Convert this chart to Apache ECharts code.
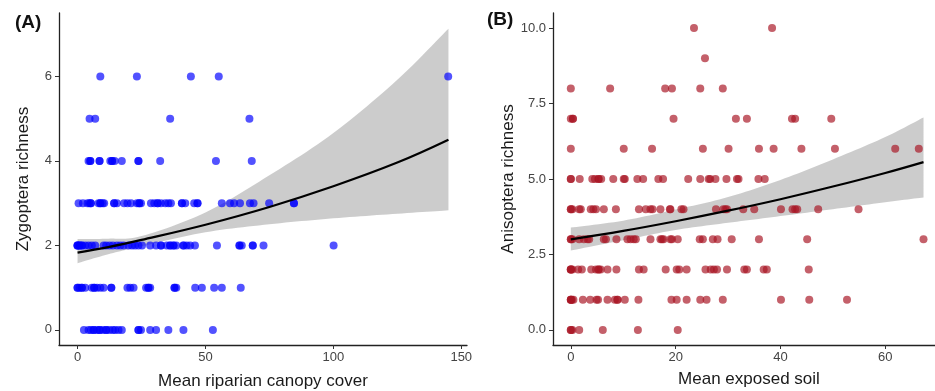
<!DOCTYPE html>
<html>
<head>
<meta charset="utf-8">
<script src="https://cdn.jsdelivr.net/npm/echarts@6/dist/echarts.min.js"></script>
<style>
html,body{margin:0;padding:0;background:#fff;}
#chart{width:935px;height:391px;}
</style>
</head>
<body>
<div id="chart"></div>
<script>
// ---------- Panel A: Zygoptera richness vs mean riparian canopy cover ----------
const zygoLevels = [0, 1, 2, 3, 4, 5, 6];
const zygoCanopy = [
  [2.5, 4.3, 5.2, 6.3, 6.3, 7.6, 8.6, 8.6, 9.9, 11.2, 11.2, 12.5, 13.8, 14.7, 16.0, 17.3, 23.8, 23.8, 24.8, 28.4, 30.7, 35.5, 41.4, 52.9],
  [0, 0, 0.8, 1.7, 1.7, 3.0, 5.6, 6.5, 6.5, 7.6, 8.9, 10.2, 13.2, 13.2, 19.5, 20.6, 21.9, 26.8, 27.7, 27.7, 28.4, 37.9, 37.9, 38.6, 46.0, 48.6, 53.4, 56.4, 63.8],
  [0, 0, 0, 0.8, 0.8, 1.7, 1.7, 3.0, 4.3, 5.6, 6.9, 10.2, 11.2, 12.5, 13.8, 15.4, 16.7, 18.0, 19.9, 21.3, 22.5, 23.8, 25.2, 28.4, 30.7, 32.6, 32.6, 34.9, 36.2, 36.2, 37.5, 37.5, 38.6, 41.4, 41.4, 42.7, 44.0, 45.9, 54.5, 63.3, 63.3, 64.2, 68.5, 68.5, 72.7, 100.1],
  [0.4, 2.1, 3.9, 4.6, 5.2, 5.2, 8.2, 8.9, 8.9, 9.8, 10.4, 14.3, 14.3, 15.4, 18.2, 19.5, 20.9, 23.2, 24.1, 24.1, 24.8, 28.7, 30.0, 31.3, 31.3, 32.6, 34.3, 35.5, 36.5, 40.8, 40.8, 42.1, 45.6, 46.9, 46.9, 56.4, 59.6, 61.2, 63.5, 67.4, 68.8, 74.9, 84.6, 84.6],
  [4.3, 5.0, 5.0, 8.6, 8.6, 12.8, 13.5, 13.5, 14.5, 17.3, 23.8, 23.8, 32.3, 54.1, 68.1],
  [4.7, 6.9, 36.2, 67.2],
  [8.9, 23.2, 44.3, 55.2, 144.9]
];
// fitted curve and confidence band
const zygoFitX     = [0, 12, 25, 50, 75, 100, 125, 145];
const zygoFitY     = [1.83, 1.96, 2.13, 2.49, 2.91, 3.40, 3.96, 4.50];
const zygoBandLow  = [1.58, 1.79, 1.98, 2.31, 2.50, 2.64, 2.75, 2.83];
const zygoBandHigh = [2.15, 2.16, 2.22, 2.78, 3.66, 4.66, 5.92, 7.13];
const zygoXTicks = [0, 50, 100, 150];
const zygoYTicks = [0, 2, 4, 6];

// ---------- Panel B: Anisoptera richness vs mean exposed soil ----------
const anisoLevels = [0, 1, 2, 3, 4, 5, 6, 7, 8, 9, 10];
const anisoSoil = [
  [0, 0, 0.3, 1.6, 6.1, 12.8, 20.4],
  [0, 0, 0, 0.2, 0.5, 2.3, 3.7, 4.9, 5.2, 7.0, 8.4, 8.9, 8.9, 10.3, 12.9, 19.2, 20.2, 22.1, 24.7, 25.9, 29.0, 40.1, 45.5, 52.7],
  [0, 0, 0, 0.3, 1.4, 2.1, 3.9, 4.8, 5.3, 5.3, 5.7, 7.0, 8.7, 13.0, 13.9, 18.1, 20.2, 20.7, 22.1, 25.7, 26.7, 27.3, 27.9, 29.8, 33.1, 33.6, 36.8, 37.4, 45.4],
  [0, 0, 0.3, 1.6, 2.5, 3.2, 3.5, 6.3, 6.7, 8.7, 10.8, 11.4, 12.0, 12.4, 15.2, 17.1, 17.4, 17.7, 19.0, 19.3, 20.4, 24.6, 25.2, 27.1, 28.0, 30.7, 35.9, 45.1, 67.3],
  [0, 0, 0.3, 1.6, 1.9, 3.8, 4.3, 4.8, 6.3, 8.6, 13.0, 14.3, 15.2, 15.6, 17.1, 18.9, 19.0, 21.1, 21.5, 27.7, 29.1, 29.5, 29.8, 32.9, 35.0, 40.1, 42.3, 42.8, 43.2, 47.2, 54.9],
  [0, 0, 1.7, 4.1, 4.6, 5.3, 5.3, 5.8, 8.1, 10.1, 10.3, 12.7, 13.8, 16.7, 17.6, 22.4, 24.7, 26.3, 26.6, 27.6, 29.7, 31.7, 32.0, 35.8, 37.0],
  [0, 10.1, 15.5, 25.2, 30.1, 35.9, 38.7, 44.0, 50.4, 61.9, 66.4],
  [0, 0.4, 0.4, 19.6, 31.5, 33.6, 42.2, 42.8, 49.7],
  [0, 7.5, 18.0, 19.3, 24.7, 29.0],
  [25.6],
  [23.5, 38.4]
];
const anisoFitX     = [0, 10, 20, 30, 40, 50, 60, 67.3];
const anisoFitY     = [3.00, 3.28, 3.60, 3.95, 4.33, 4.75, 5.20, 5.56];
const anisoBandLow  = [2.63, 2.97, 3.31, 3.55, 3.77, 4.00, 4.23, 4.39];
const anisoBandHigh = [3.39, 3.62, 3.99, 4.40, 4.97, 5.65, 6.39, 7.04];
const anisoXTicks = [0, 20, 40, 60];
const anisoYTicks = [0, 2.5, 5, 7.5, 10];

// ---------- build ----------
function toPoints(levels, xs) {
  const out = [];
  levels.forEach((lv, i) => xs[i].forEach(x => out.push([x, lv])));
  return out;
}
function pairs(xs, ys) { return xs.map((x, i) => [x, ys[i]]); }

// smooth a list of pixel points (Catmull-Rom, rendering only)
function smoothPx(pts) {
  const out = [];
  for (let i = 0; i < pts.length - 1; i++) {
    const p0 = pts[Math.max(0, i - 1)], p1 = pts[i], p2 = pts[i + 1], p3 = pts[Math.min(pts.length - 1, i + 2)];
    const steps = 12;
    for (let s = 0; s < steps; s++) {
      const t = s / steps, t2 = t * t, t3 = t2 * t;
      const f = (a, b, c, d) => 0.5 * ((2 * b) + (-a + c) * t + (2 * a - 5 * b + 4 * c - d) * t2 + (-a + 3 * b - 3 * c + d) * t3);
      out.push([f(p0[0], p1[0], p2[0], p3[0]), f(p0[1], p1[1], p2[1], p3[1])]);
    }
  }
  out.push(pts[pts.length - 1]);
  return out;
}
function bandSeries(axisIdx, xs, lo, hi) {
  return {
    type: 'custom', xAxisIndex: axisIdx, yAxisIndex: axisIdx,
    data: xs.map((x, i) => [x, lo[i], hi[i]]),
    encode: { x: 0, y: [1, 2] },
    renderItem: function (params, api) {
      if (params.dataIndex !== 0) return null;
      const up = xs.map((x, i) => api.coord([x, hi[i]]));
      const dn = xs.map((x, i) => api.coord([x, lo[i]]));
      const pts = smoothPx(up).concat(smoothPx(dn).reverse());
      return { type: 'polygon', shape: { points: pts }, style: { fill: bandColor } };
    }
  };
}

const FONT = 'Liberation Sans, Arial, sans-serif';
function xAxisCfg(gridIndex, min, max, ticks, name, gap) {
  return {
    type: 'value', gridIndex, min, max,
    name, nameLocation: 'middle', nameGap: gap,
    nameTextStyle: { fontFamily: FONT, fontSize: 17, color: '#1a1a1a' },
    axisLine: { show: true, onZero: false, lineStyle: { color: '#222', width: 1.3 } },
    axisTick: { show: true, length: 4, customValues: ticks, lineStyle: { color: '#333', width: 1 } },
    axisLabel: { customValues: ticks, margin: 6, fontFamily: FONT, fontSize: 13, color: '#444' },
    splitLine: { show: false }
  };
}
function yAxisCfg(gridIndex, min, max, ticks, name, gap, fmt) {
  return {
    type: 'value', gridIndex, min, max,
    name, nameLocation: 'middle', nameGap: gap,
    nameTextStyle: { fontFamily: FONT, fontSize: 17, color: '#1a1a1a' },
    axisLine: { show: true, onZero: false, lineStyle: { color: '#222', width: 1.3 } },
    axisTick: { show: true, length: 4, customValues: ticks, lineStyle: { color: '#333', width: 1 } },
    axisLabel: { customValues: ticks, margin: 7, fontFamily: FONT, fontSize: 13, color: '#444', formatter: fmt },
    splitLine: { show: false }
  };
}
const bandColor = 'rgba(120,120,120,0.38)';

const option = {
  animation: false,
  backgroundColor: '#fff',
  graphic: [
    { type: 'text', left: 15, top: 13, style: { text: '(A)', font: 'bold 19px ' + FONT, fill: '#111' } },
    { type: 'text', left: 487, top: 10, style: { text: '(B)', font: 'bold 19px ' + FONT, fill: '#111' } }
  ],
  grid: [
    { left: 59, top: 13, width: 408, height: 332, containLabel: false, outerBoundsMode: 'none' },
    { left: 553, top: 13, width: 392, height: 332, containLabel: false, outerBoundsMode: 'none' }
  ],
  xAxis: [
    xAxisCfg(0, -7.25, 152.25, zygoXTicks, 'Mean riparian canopy cover', 28),
    xAxisCfg(1, -3.4, 71.4, anisoXTicks, 'Mean exposed soil', 26)
  ],
  yAxis: [
    yAxisCfg(0, -0.357, 7.5, zygoYTicks, 'Zygoptera richness', 27, v => String(v)),
    yAxisCfg(1, -0.5, 10.5, anisoYTicks, 'Anisoptera richness', 36, v => v.toFixed(1))
  ],
  series: [
    {
      type: 'scatter', xAxisIndex: 0, yAxisIndex: 0, symbolSize: 8,
      itemStyle: { color: 'rgb(0,0,255)', opacity: 0.68 },
      data: toPoints(zygoLevels, zygoCanopy)
    },
    bandSeries(0, zygoFitX, zygoBandLow, zygoBandHigh),
    {
      type: 'line', xAxisIndex: 0, yAxisIndex: 0, smooth: 0.4, symbol: 'none',
      lineStyle: { color: '#000', width: 2.2 }, data: pairs(zygoFitX, zygoFitY)
    },
    {
      type: 'scatter', xAxisIndex: 1, yAxisIndex: 1, symbolSize: 8,
      itemStyle: { color: 'rgb(168,20,35)', opacity: 0.68 },
      data: toPoints(anisoLevels, anisoSoil)
    },
    bandSeries(1, anisoFitX, anisoBandLow, anisoBandHigh),
    {
      type: 'line', xAxisIndex: 1, yAxisIndex: 1, smooth: 0.4, symbol: 'none',
      lineStyle: { color: '#000', width: 2.2 }, data: pairs(anisoFitX, anisoFitY)
    }
  ]
};
const chart = echarts.init(document.getElementById('chart'), null, { renderer: 'canvas' });
chart.setOption(option);
</script>
</body>
</html>
